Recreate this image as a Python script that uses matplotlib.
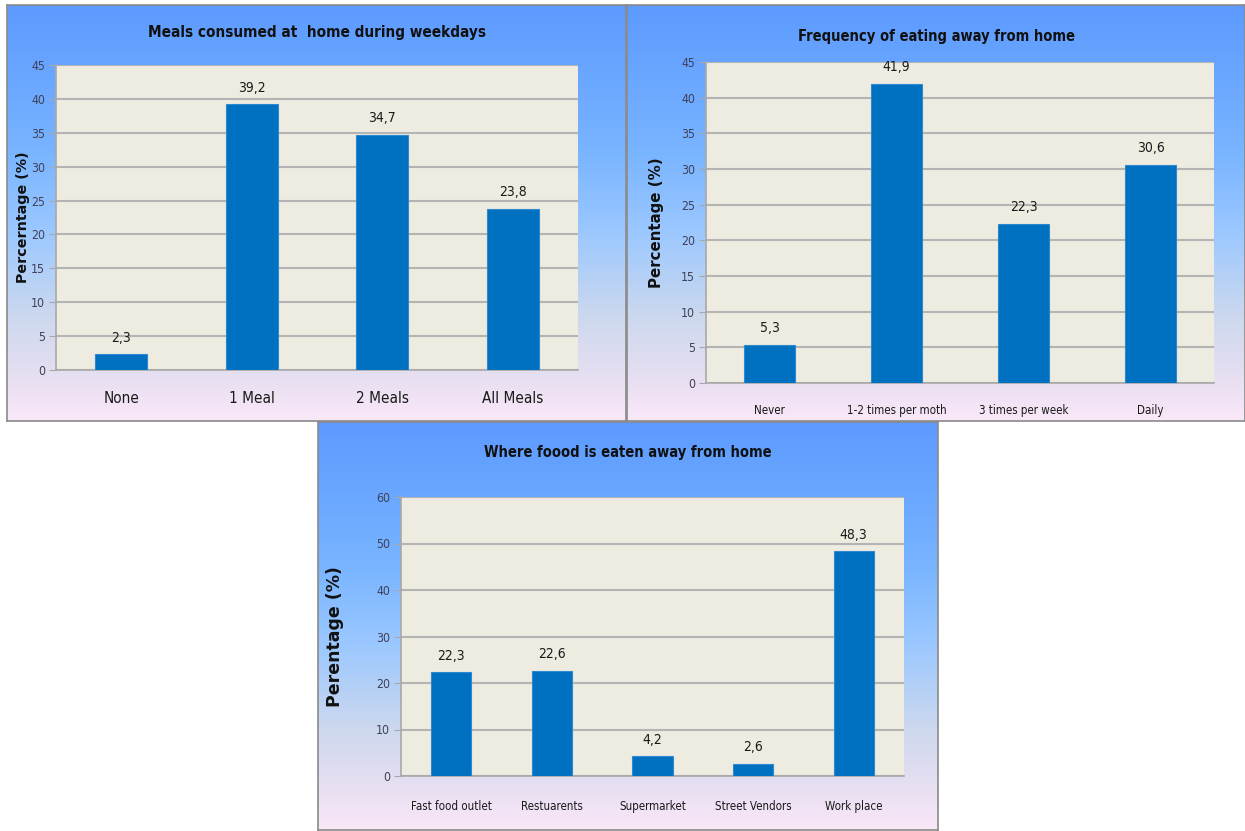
import matplotlib
matplotlib.use("Agg")
import matplotlib.pyplot as plt
import numpy as np
from matplotlib import font_manager
from matplotlib.font_manager import FontProperties
from matplotlib.colors import LinearSegmentedColormap

# ---- data ----
meals_cats = ["None", "1 Meal", "2 Meals", "All Meals"]
meals_vals = [2.3, 39.2, 34.7, 23.8]

freq_cats = ["Never", "1-2 times per moth", "3 times per week", "Daily"]
freq_vals = [5.3, 41.9, 22.3, 30.6]

place_cats = ["Fast food outlet", "Restuarents", "Supermarket", "Street Vendors", "Work place"]
place_vals = [22.3, 22.6, 4.2, 2.6, 48.3]

W, H = 1245, 831


def _is_bold(f):
    return f.weight in (600, 700, 800, "bold", "semibold", "demibold")


def find_narrow(bold):
    """Look for an installed condensed / narrow sans face."""
    hits = []
    for f in font_manager.fontManager.ttflist:
        key = (f.fname + " " + f.name).lower()
        if not ("narrow" in key or "condensed" in key or
                f.stretch in ("condensed", "semi-condensed", "extra-condensed")):
            continue
        if "italic" in key or "oblique" in key or f.style != "normal":
            continue
        if "serif" in key.replace("sans", "") or "mono" in key:
            continue
        if _is_bold(f) != bold:
            continue
        hits.append(f)
    order = ["liberation", "dejavu", "roboto", "open", "noto", "lato", "inter"]
    hits.sort(key=lambda f: next((i for i, o in enumerate(order)
                                  if o in f.name.lower()), 99))
    return hits[0].fname if hits else None


NARROW_REG = find_narrow(False)
NARROW_BOLD = find_narrow(True)
SCALE = 1.0 if NARROW_REG else 0.9


def narrow(size, bold=False):
    path = NARROW_BOLD if bold else NARROW_REG
    if path:
        return FontProperties(fname=path, size=size)
    return FontProperties(family="Liberation Sans", size=size * SCALE,
                          weight="bold" if bold else "normal")


BAR = "#0070C0"
PLOT_BG = "#EEEBE0"
GRID = "#B4B4B4"
TICK_COL = "#404058"

bg_cmap = LinearSegmentedColormap.from_list(
    "panel_bg",
    [(0.0, "#5C9AFF"), (0.35, "#78B4FF"), (0.55, "#9CC8FF"),
     (0.75, "#CCD8EE"), (0.9, "#E8DFF2"), (1.0, "#F9E8F8")])


def rect(x0, y0, x1, y1):
    return [x0 / W, 1 - y1 / H, (x1 - x0) / W, (y1 - y0) / H]


fig = plt.figure(figsize=(W / 100, H / 100), dpi=100)
fig.patch.set_facecolor("white")


def panel(px, ax_box, cats, vals, ymax, ystep, title, ylabel,
          cat_size, title_size, title_y, ylab_x, ylab_size, cat_pad):
    # gradient background of the panel
    bg = fig.add_axes(rect(*px), zorder=0)
    grad = np.linspace(0, 1, 256).reshape(-1, 1)
    bg.imshow(grad, aspect="auto", cmap=bg_cmap, extent=[0, 1, 0, 1],
              origin="upper")
    bg.set_xlim(0, 1)
    bg.set_ylim(0, 1)
    bg.set_xticks([])
    bg.set_yticks([])
    for s in bg.spines.values():
        s.set_color("#8A8A8A")
        s.set_linewidth(1.2)

    ax = fig.add_axes(rect(*ax_box), zorder=1)
    ax.set_facecolor(PLOT_BG)
    x = np.arange(len(cats))
    bars = ax.bar(x, vals, width=0.4, color=BAR, edgecolor="#2E8AD0",
                  linewidth=0.8, zorder=3)
    ax.set_xlim(-0.5, len(cats) - 0.5)
    ax.set_ylim(0, ymax)
    yt = np.arange(0, ymax + 0.1, ystep)
    ax.set_yticks(yt, labels=[f"{int(t)}" for t in yt],
                  fontproperties=narrow(8.8), color=TICK_COL)
    ax.yaxis.grid(True, color=GRID, linewidth=1.5, zorder=0)
    ax.set_axisbelow(True)
    for s in ("top", "right"):
        ax.spines[s].set_visible(False)
    for s in ("left", "bottom"):
        ax.spines[s].set_color("#A8A8A8")
        ax.spines[s].set_linewidth(1.2)
    ax.tick_params(axis="y", length=5, color="#A8A8A8", pad=3)
    ax.tick_params(axis="x", length=0, pad=cat_pad)
    ax.set_xticks(x, labels=cats, fontproperties=narrow(cat_size),
                  color="#1A1A1A")

    for b, v in zip(bars, vals):
        ax.annotate(f"{v:.1f}".replace(".", ","),
                    (b.get_x() + b.get_width() / 2, v),
                    xytext=(0, 7), textcoords="offset points",
                    ha="center", va="bottom", fontproperties=narrow(10),
                    color="#1A1A1A")

    fig.text(ylab_x / W, 1 - ((ax_box[1] + ax_box[3]) / 2) / H, ylabel,
             rotation=90, ha="center", va="center", fontsize=ylab_size,
             fontweight="bold", family="DejaVu Sans", color="#111111")

    cx = (px[0] + px[2]) / 2
    fig.text(cx / W, 1 - title_y / H, title, ha="center", va="center",
             fontproperties=narrow(title_size, bold=True), color="#111111")
    return ax


panel((7, 5, 626, 421), (56, 65, 578, 370), meals_cats, meals_vals, 45, 5,
      "Meals consumed at  home during weekdays", "Percerntage (%)",
      11, 11, 33, 23, 10.3, 15)
panel((627, 5, 1245, 421), (706, 62, 1214, 383), freq_cats, freq_vals, 45, 5,
      "Frequency of eating away from home", "Percentage (%)",
      8.3, 10.5, 36, 656, 10.8, 15)
panel((318, 422, 938, 830), (401, 497, 904, 776), place_cats, place_vals, 60, 10,
      "Where foood is eaten away from home", "Perentage (%)",
      8.3, 10.5, 452, 335, 12.5, 17)

fig.savefig("out.png", dpi=100, facecolor=fig.get_facecolor())
